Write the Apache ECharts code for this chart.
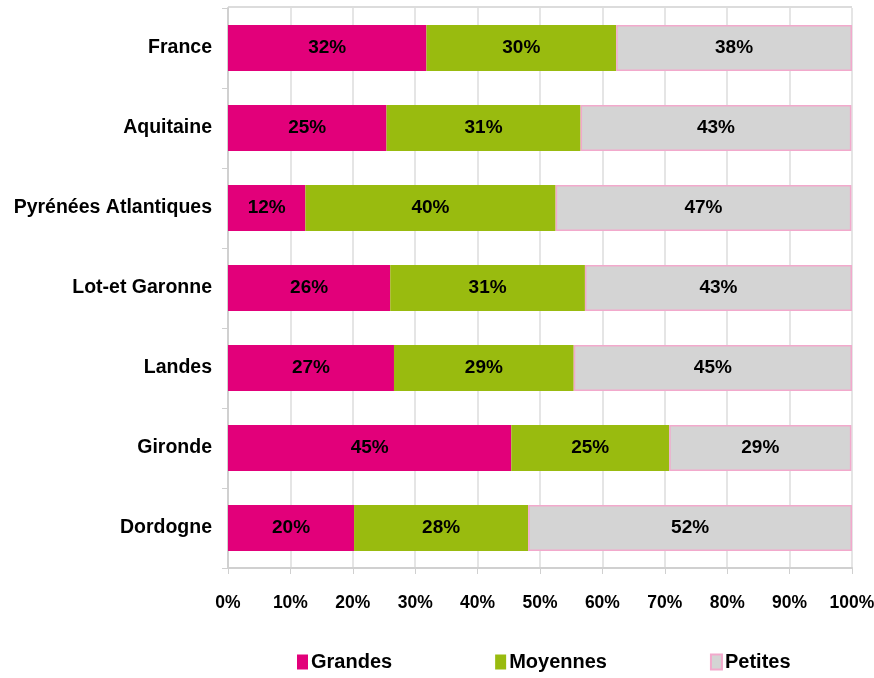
<!DOCTYPE html>
<html><head><meta charset="utf-8">
<script src="https://cdn.jsdelivr.net/npm/echarts@6/dist/echarts.min.js"></script>
<style>html,body{margin:0;padding:0;background:#fff}#c{width:874px;height:678px}</style>
</head><body><div id="c"></div>
<script>
const categories = ["France","Aquitaine","Pyrénées Atlantiques","Lot-et Garonne","Landes","Gironde","Dordogne"];
const grandes  = [31.8, 25.4, 12.4, 26.0, 26.6, 45.4, 20.2];
const moyennes = [30.4, 31.1, 40.1, 31.2, 28.8, 25.3, 27.9];
const petites  = [37.8, 43.4, 47.4, 42.8, 44.6, 29.2, 51.9];
const seriesNames = ["Grandes","Moyennes","Petites"];

const FONT = '"Liberation Sans",Arial,sans-serif';
const chart = echarts.init(document.getElementById('c'));
const lbl = {show:true, position:'inside', color:'#000', fontFamily:FONT, fontWeight:'bold', fontSize:19,
  formatter: p => Math.round(p.value) + '%'};
chart.setOption({
  animation:false,
  grid:{left:228, right:22, top:8, bottom:110, containLabel:false, outerBoundsMode:'none'},
  legend:{top:647, left:292, itemWidth:11, itemHeight:15, itemGap:103, icon:'rect',
    textStyle:{fontFamily:FONT, fontWeight:'bold', fontSize:20, color:'#000', padding:[0,0,0,-2]},
    data:seriesNames},
  xAxis:{type:'value', min:0, max:100, interval:10,
    axisLine:{show:true, lineStyle:{color:'#d0d0d0', width:2}},
    axisTick:{show:true, length:6, lineStyle:{color:'#d0d0d0'}},
    splitLine:{show:true, lineStyle:{color:'#dcdcdc', width:1.5}},
    axisLabel:{formatter:v=>v+'%', margin:26, color:'#000', fontFamily:FONT, fontWeight:'bold', fontSize:17.5}},
  yAxis:{type:'category', data:categories.slice().reverse(),
    axisLine:{show:true, lineStyle:{color:'#d0d0d0', width:2}},
    axisTick:{show:true, length:6, lineStyle:{color:'#d0d0d0'}},
    axisLabel:{margin:16, color:'#000', fontFamily:FONT, fontWeight:'bold', fontSize:19.5}},
  series:[
    {name:'Grandes', type:'bar', stack:'t', barWidth:46, data:grandes.slice().reverse(),
      itemStyle:{color:'#e2007a'}, label:lbl},
    {name:'Moyennes', type:'bar', stack:'t', data:moyennes.slice().reverse(),
      itemStyle:{color:'#99bb0f'}, label:lbl},
    {name:'Petites', type:'bar', stack:'t', data:petites.slice().reverse(),
      itemStyle:{color:'#d4d4d4', borderColor:'#f2a9cc', borderWidth:1.5}, label:lbl}
  ],
  graphic:[{type:'line', shape:{x1:228,y1:7,x2:852,y2:7}, style:{stroke:'#dcdcdc', lineWidth:2}}]
});
</script></body></html>
